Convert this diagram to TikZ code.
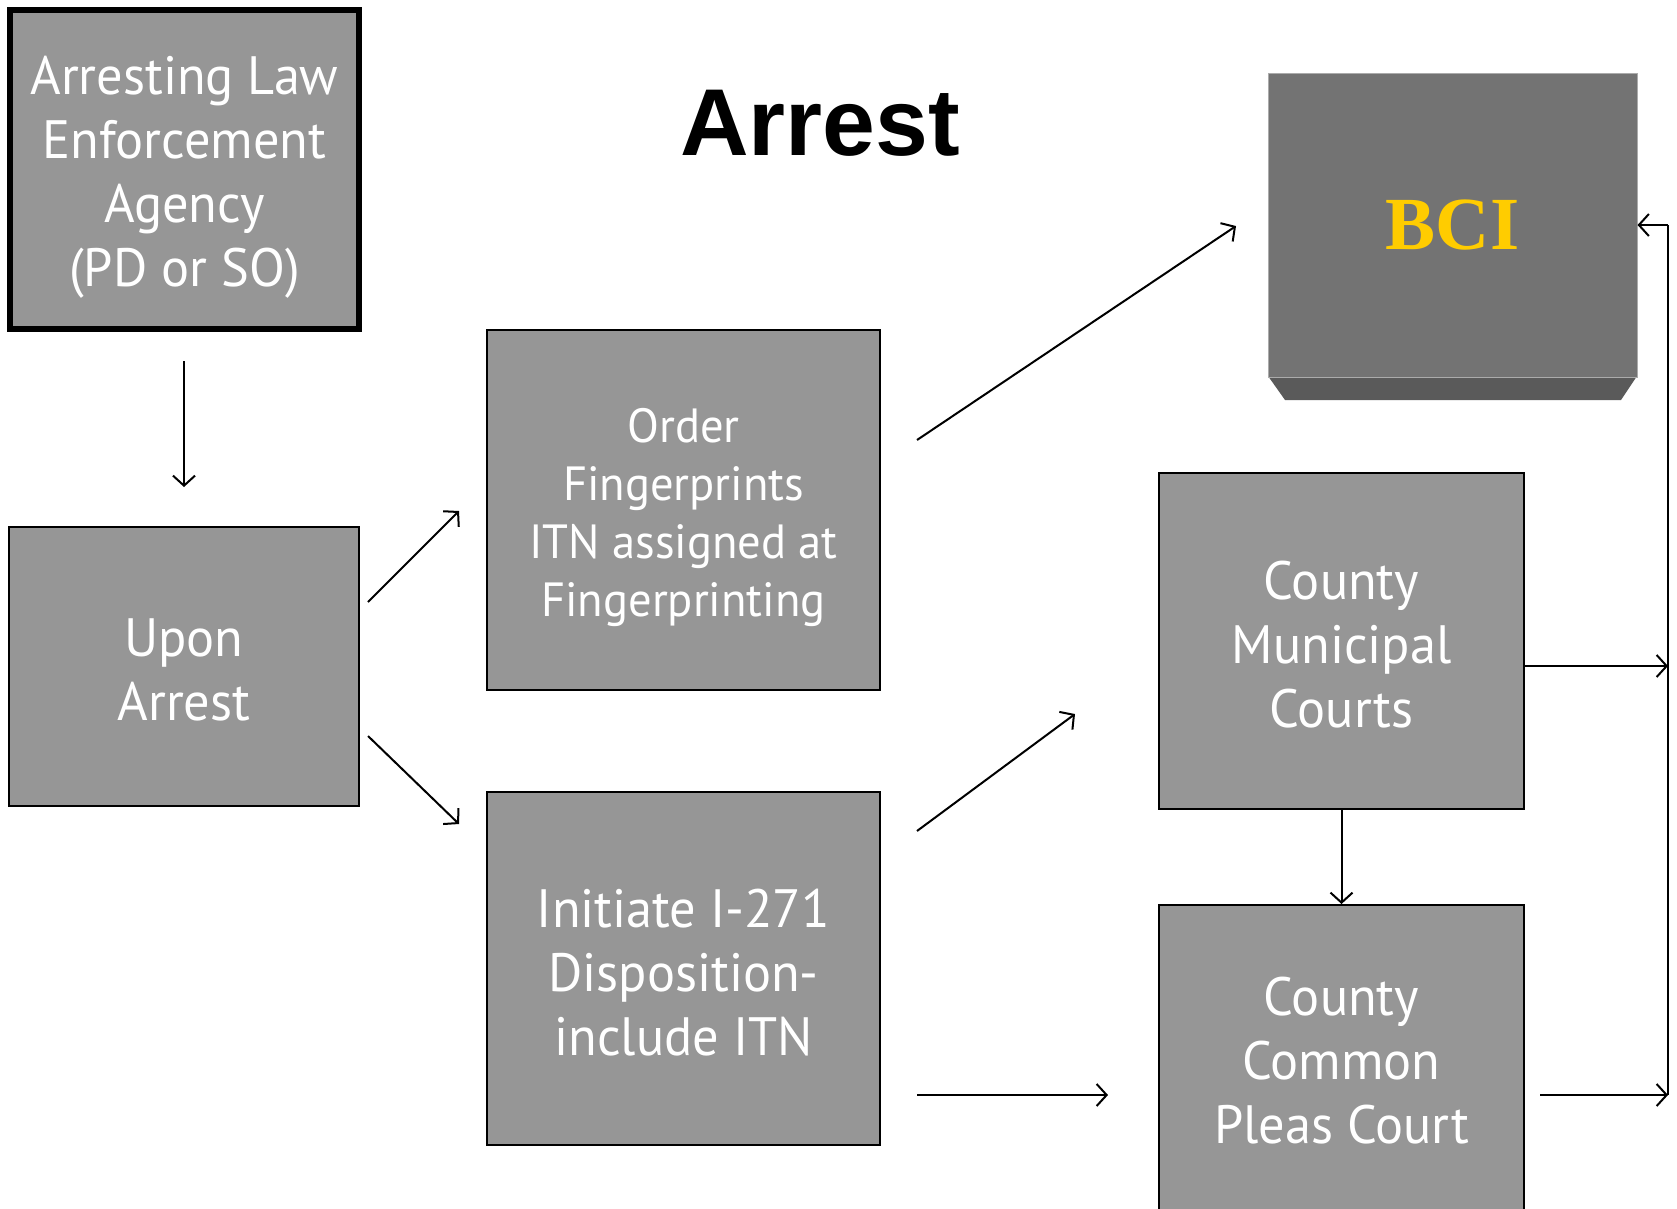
\documentclass[tikz,border=0pt]{standalone}
\usepackage{fontspec}
\setmainfont{PT Sans}[FakeStretch=0.97]
\newfontfamily\titlefont{Liberation Sans}
\newfontfamily\bcifont{Liberation Serif}
\usetikzlibrary{arrows.meta}
\definecolor{boxgray}{HTML}{969696}
\definecolor{bcigray}{HTML}{737373}
\definecolor{bcidark}{HTML}{5A5A5A}
\definecolor{bciyellow}{HTML}{FFCC00}
\newcommand{\topstrut}[1]{\rule{0pt}{#1pt}}
\tikzset{
  box/.style={draw=black, fill=boxgray, line width=2pt, text=white, align=center, inner sep=0pt,
    font=\fontsize{54}{64}\selectfont},
  arr/.style={line width=2pt, -{Straight Barb[length=10pt,width=22pt,line width=2pt]}},
  ln/.style={line width=2pt}
}
\begin{document}
\begin{tikzpicture}[x=1pt,y=-1pt]
\useasboundingbox (0,0) rectangle (1677,1208);
\clip (0,0) rectangle (1677,1208);
% boxes
\node[box, line width=6pt, minimum width=349, minimum height=319] (agency) at (184.5,169.5)
  {\topstrut{53}Arresting Law\\Enforcement\\Agency\\(PD or SO)};
\node[box, minimum width=350, minimum height=279] (upon) at (184,666.5) {\topstrut{45}Upon\\Arrest};
\node[box, minimum width=393, minimum height=360, font=\fontsize{48}{58}\selectfont] (order) at (683.5,510)
  {\topstrut{50}Order\\Fingerprints\\ITN assigned at\\Fingerprinting};
\node[box, minimum width=393, minimum height=353] (init) at (683.5,968.5)
  {\topstrut{47}Initiate I-271\\Disposition-\\include ITN};
\node[box, minimum width=365, minimum height=336] (muni) at (1341.5,641)
  {\topstrut{45}County\\Municipal\\Courts};
\node[box, minimum width=365, minimum height=312] (common) at (1341.5,1061)
  {County\\Common\\Pleas Court};
% BCI block
\fill[bcidark] (1268,376) -- (1637,376) -- (1621,400) -- (1285,400) -- cycle;
\node[draw=boxgray!80, line width=1pt, fill=bcigray, minimum width=369, minimum height=304, inner sep=0pt,
  text=bciyellow, font=\bcifont\bfseries\fontsize{75}{80}\selectfont] (bci) at (1452.5,225) {BCI};
% title
\node[anchor=base, font=\titlefont\bfseries\fontsize{95}{110}\selectfont] (title) at (820,155) {Arrest};
% connector end points
\coordinate (a1) at (184,361); \coordinate (a2) at (184,487);
\coordinate (u1) at (368,602); \coordinate (o1) at (459,511);
\coordinate (u2) at (368,736); \coordinate (i1) at (459,824);
\coordinate (o2) at (917,440); \coordinate (b1) at (1236,226);
\coordinate (i2) at (917,831); \coordinate (m1) at (1075,714);
\coordinate (i3) at (917,1095); \coordinate (c1) at (1108,1095);
\coordinate (m2) at (1524,666); \coordinate (r1) at (1668,666);
\coordinate (c2) at (1540,1095); \coordinate (r2) at (1668,1095);
\coordinate (r3) at (1668,225);
% connectors
\draw[arr] (a1) -- (a2);
\draw[arr] (u1) -- (o1);
\draw[arr] (u2) -- (i1);
\draw[arr] (o2) -- (b1);
\draw[arr] (i2) -- (m1);
\draw[arr] (i3) -- (c1);
\draw[arr] (muni.south) -- (common.north);
\draw[arr] (m2) -- (r1);
\draw[arr] (c2) -- (r2);
\draw[ln] (r2) -- (r3);
\draw[arr] (r3) -- (bci.east);
\end{tikzpicture}
\end{document}
